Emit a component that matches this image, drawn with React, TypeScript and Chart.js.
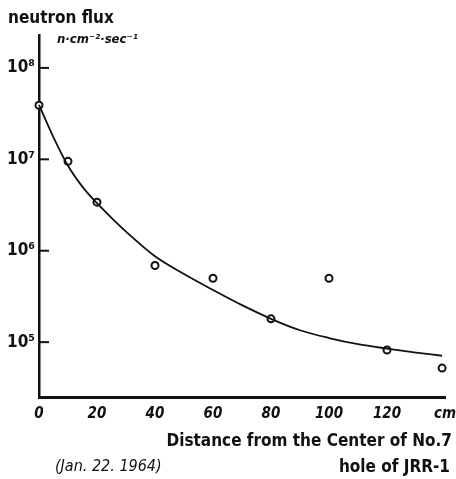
import React, { useEffect, useRef } from "react";
import { Chart, registerables } from "chart.js";

Chart.register(...registerables);

const pointDistances = [0, 10, 20, 40, 60, 80, 100, 120, 139];
const pointFlux = [3.9e7, 9.5e6, 3.4e6, 6.9e5, 5.0e5, 1.8e5, 5.0e5, 8.2e4, 5.2e4];

const curveDistances = [0, 5, 10, 15, 20, 25, 30, 40, 50, 60, 70, 80, 90, 100, 110, 120, 130, 139];
const curveFlux = [3.94e7, 1.74e7, 8.5e6, 5.0e6, 3.31e6, 2.29e6, 1.62e6, 8.7e5, 5.56e5, 3.72e5, 2.54e5, 1.8e5, 1.35e5, 1.11e5, 9.5e4, 8.5e4, 7.7e4, 7.1e4];

const yTickValues = [1e5, 1e6, 1e7, 1e8];
const yTickLabels = ["10⁵", "10⁶", "10⁷", "10⁸"];
const xTickValues = [0, 20, 40, 60, 80, 100, 120, 140];
const xTickLabels = ["0", "20", "40", "60", "80", "100", "120", "cm"];

const FONT = "'DejaVu Sans Condensed', 'DejaVu Sans', sans-serif";

const innerTicks = {
  id: "innerTicks",
  afterDraw(chart: any) {
    const ctx = chart.ctx;
    const y = chart.scales.y;
    const left = chart.chartArea.left;
    ctx.save();
    ctx.strokeStyle = "#111";
    ctx.lineWidth = 2;
    yTickValues.forEach((v) => {
      const py = y.getPixelForValue(v);
      ctx.beginPath();
      ctx.moveTo(left, py);
      ctx.lineTo(left + 10, py);
      ctx.stroke();
    });
    ctx.restore();
  },
};

export default function App() {
  const ref = useRef<HTMLCanvasElement>(null);
  useEffect(() => {
    const canvas = ref.current!;
    const chart = new Chart(canvas, {
      type: "scatter",
      data: {
        datasets: [
          {
            type: "line",
            data: curveDistances.map((x, i) => ({ x, y: curveFlux[i] })),
            borderColor: "#111",
            borderWidth: 1.8,
            pointRadius: 0,
            cubicInterpolationMode: "monotone",
            fill: false,
            clip: false as any,
          } as any,
          {
            type: "scatter",
            data: pointDistances.map((x, i) => ({ x, y: pointFlux[i] })),
            borderColor: "#111",
            backgroundColor: "#fff",
            borderWidth: 2,
            pointRadius: 3.5,
            showLine: false,
            clip: false as any,
          } as any,
        ],
      },
      options: {
        animation: false,
        responsive: false,
        events: [],
        layout: { padding: { top: 35, right: 11, left: 0, bottom: 0 } },
        plugins: { legend: { display: false }, tooltip: { enabled: false } },
        scales: {
          x: {
            type: "linear",
            min: 0,
            max: 140,
            afterBuildTicks: (s: any) => {
              s.ticks = xTickValues.map((v) => ({ value: v }));
            },
            afterFit: (s: any) => {
              s.height = 82;
              s.paddingLeft = 0;
              s.paddingRight = 0;
            },
            ticks: {
              callback: (v: any) => {
                const i = xTickValues.indexOf(Number(v));
                return i >= 0 ? xTickLabels[i] : "";
              },
              color: "#111",
              font: { family: FONT, size: 15, weight: "bold", style: "italic" },
              padding: 8,
              maxRotation: 0,
              autoSkip: false,
            },
            grid: { display: false, drawTicks: false },
            border: { display: true, color: "#111", width: 3 },
          },
          y: {
            type: "logarithmic",
            min: Math.pow(10, 4.4),
            max: Math.pow(10, 8.36),
            afterBuildTicks: (s: any) => {
              s.ticks = yTickValues.map((v) => ({ value: v }));
            },
            afterFit: (s: any) => {
              s.width = 39;
              s.paddingTop = 0;
              s.paddingBottom = 0;
            },
            ticks: {
              callback: (v: any) => {
                const i = yTickValues.indexOf(Number(v));
                return i >= 0 ? yTickLabels[i] : "";
              },
              color: "#111",
              font: { family: FONT, size: 17, weight: "bold" },
              padding: 4,
              autoSkip: false,
            },
            grid: { display: false, drawTicks: false },
            border: { display: true, color: "#111", width: 2.5 },
          },
        },
      } as any,
      plugins: [innerTicks],
    });
    return () => chart.destroy();
  }, []);

  const txt: React.CSSProperties = {
    position: "absolute",
    fontFamily: FONT,
    color: "#111",
    whiteSpace: "nowrap",
    lineHeight: 1,
  };

  return (
    <div style={{ position: "fixed", left: 0, top: 0, width: 456, height: 479, background: "#fff" }}>
      <canvas ref={ref} width={456} height={479} style={{ width: 456, height: 479, display: "block" }} />
      <div style={{ ...txt, left: 8, top: 9, fontSize: 17, fontWeight: "bold" }}>neutron flux</div>
      <div style={{ ...txt, left: 57, top: 32, fontSize: 13, fontWeight: "bold", fontStyle: "italic" }}>n·cm⁻²·sec⁻¹</div>
      <div style={{ ...txt, right: 4, top: 432, fontSize: 17, fontWeight: "bold" }}>Distance from the Center of No.7</div>
      <div style={{ ...txt, right: 6, top: 458, fontSize: 17, fontWeight: "bold" }}>hole of JRR-1</div>
      <div style={{ ...txt, left: 55, top: 458, fontSize: 16, fontStyle: "italic" }}>(Jan. 22. 1964)</div>
    </div>
  );
}
